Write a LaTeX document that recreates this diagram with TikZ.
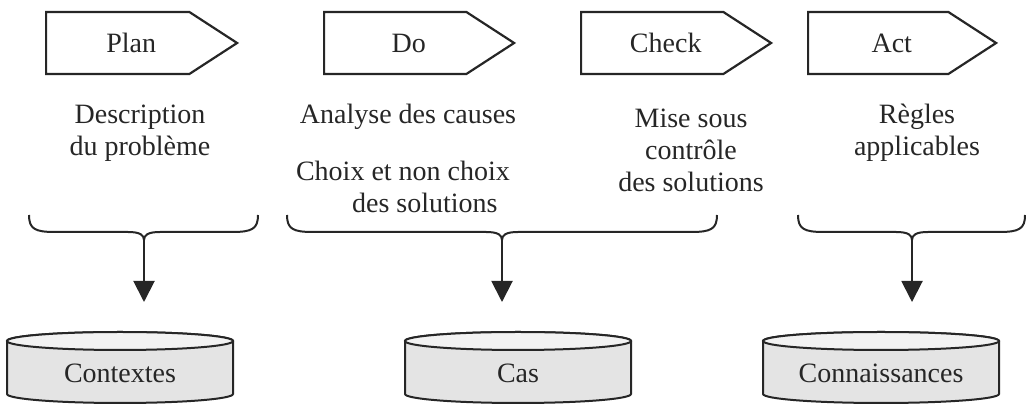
\documentclass[tikz,border=0pt]{standalone}
\usepackage{fontspec}
\setmainfont{Liberation Serif}
\usetikzlibrary{arrows.meta,positioning,shapes.symbols}
\definecolor{ink}{HTML}{262626}
\definecolor{diskbody}{HTML}{E4E4E4}
\definecolor{disktop}{HTML}{F2F2F2}

\begin{document}
\begin{tikzpicture}[x=0.5pt,y=0.5pt,
 every node/.style={font=\fontsize{14}{16}\selectfont,align=center,text=ink},
 phase/.style={signal,signal to=east,signal pointer angle=66,draw=ink,line width=1.1pt,
   minimum width=95.5pt,minimum height=31pt,inner sep=0pt,anchor=west,
   execute at begin node={\hspace*{13.5pt}}},
 curly/.style={draw=ink,line width=1pt},
 arr/.style={-{Triangle[length=10.5pt,width=10.5pt]},draw=ink,line width=1pt},
 disk/.style={draw=ink,line width=1pt}]
 \useasboundingbox (0,0) rectangle (1026,405);
 % phases
 \node[phase] (plan) at (45,362) {Plan};
 \node[phase,minimum width=95pt] (do) at (323,362) {Do};
 \node[phase,minimum width=95pt] (check) at (580,362) {Check};
 \node[phase,minimum width=94pt] (act) at (807,362) {Act};
 % what each phase covers
 \node (desc) at (140,272) {Description\\du problème};
 \node (cause) at (408,288) {Analyse des causes};
 \node[align=left] (choix) at (403,218) {Choix et non choix\\\hspace*{28pt}des solutions};
 \node (ctrl) at (691,255) {Mise sous\\contrôle\\des solutions};
 \node (regle) at (917,272) {Règles\\applicables};
 % braces
 \foreach \n/\l/\m/\r in {1/29/144/258,2/287/502/717,3/798/912/1025}{
   \draw[curly] (\l,190) .. controls (\l,176) and (\l+6,173) .. (\l+26,173)
     -- (\m-16,173) .. controls (\m-4,173) and (\m,170) .. (\m,165)
     .. controls (\m,170) and (\m+4,173) .. (\m+16,173)
     -- (\r-26,173) .. controls (\r-6,173) and (\r,176) .. (\r,190);
   \coordinate (tip\n) at (\m,165);
   \coordinate (feed\n) at (\m,103);
 }
 \foreach \n in {1,2,3} \draw[arr] (tip\n) -- (feed\n);
 % bases
 \foreach \n/\c/\rx/\t in {ctx/120/113/Contextes,cas/518/113/Cas,conn/881/118/Connaissances}{
   \draw[disk,fill=diskbody] (\c-\rx,64) -- (\c-\rx,11)
     arc[start angle=180,end angle=360,x radius=\rx,y radius=9]
     -- (\c+\rx,64) arc[start angle=0,end angle=180,x radius=\rx,y radius=9] -- cycle;
   \draw[disk,fill=disktop] (\c,64) ellipse[x radius=\rx,y radius=9];
   \node (\n) at (\c,32) {\t};
 }
\end{tikzpicture}
\end{document}
